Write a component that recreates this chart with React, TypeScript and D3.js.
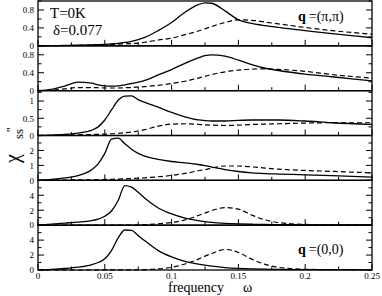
import React, { useEffect, useRef } from "react";
import * as d3 from "d3";

// frequency grid shared by all panels
const omega = [
  0, 0.01, 0.02, 0.03, 0.04, 0.045, 0.05, 0.055, 0.06, 0.065, 0.07, 0.075,
  0.08, 0.09, 0.1, 0.11, 0.12, 0.125, 0.13, 0.14, 0.15, 0.16, 0.17, 0.18, 0.2,
  0.22, 0.25,
];

// panel 1, q=(pi,pi)
const p1Solid = [0, 0.003, 0.008, 0.015, 0.022, 0.027, 0.033, 0.042, 0.055, 0.075, 0.1, 0.14, 0.19, 0.34, 0.52, 0.75, 0.92, 0.96, 0.95, 0.78, 0.58, 0.5, 0.45, 0.41, 0.34, 0.27, 0.18];
const p1Dashed = [0, 0.003, 0.007, 0.012, 0.018, 0.022, 0.026, 0.031, 0.038, 0.045, 0.052, 0.062, 0.08, 0.13, 0.17, 0.25, 0.33, 0.38, 0.43, 0.52, 0.58, 0.57, 0.53, 0.49, 0.41, 0.34, 0.26];
// panel 2
const p2Solid = [0, 0.03, 0.1, 0.19, 0.17, 0.13, 0.105, 0.1, 0.105, 0.13, 0.16, 0.19, 0.23, 0.35, 0.47, 0.61, 0.73, 0.78, 0.8, 0.77, 0.68, 0.58, 0.5, 0.45, 0.37, 0.31, 0.22];
const p2Dashed = [0, 0.01, 0.04, 0.07, 0.07, 0.065, 0.06, 0.06, 0.06, 0.065, 0.07, 0.08, 0.09, 0.12, 0.16, 0.21, 0.28, 0.32, 0.36, 0.42, 0.46, 0.48, 0.485, 0.475, 0.43, 0.36, 0.28];
// panel 3
const p3Solid = [0, 0.01, 0.03, 0.07, 0.15, 0.25, 0.45, 0.74, 1.02, 1.14, 1.15, 1.04, 0.96, 0.82, 0.67, 0.54, 0.45, 0.43, 0.42, 0.42, 0.44, 0.45, 0.45, 0.45, 0.42, 0.37, 0.32];
const p3Dashed = [0, 0.005, 0.01, 0.02, 0.03, 0.035, 0.04, 0.05, 0.065, 0.08, 0.1, 0.13, 0.17, 0.27, 0.33, 0.34, 0.32, 0.31, 0.3, 0.29, 0.3, 0.32, 0.33, 0.34, 0.36, 0.37, 0.37];
// panel 4
const p4Solid = [0, 0.06, 0.16, 0.32, 0.7, 1.1, 1.8, 2.75, 2.82, 2.45, 2.08, 1.8, 1.62, 1.4, 1.26, 1.17, 1.06, 0.98, 0.89, 0.72, 0.59, 0.5, 0.45, 0.42, 0.37, 0.31, 0.22];
const p4Dashed = [0, 0.01, 0.02, 0.03, 0.04, 0.05, 0.06, 0.07, 0.08, 0.1, 0.12, 0.14, 0.17, 0.24, 0.33, 0.46, 0.64, 0.72, 0.82, 0.96, 0.96, 0.9, 0.82, 0.75, 0.66, 0.6, 0.5];
// panel 5
const p5Solid = [0, 0.15, 0.28, 0.4, 0.6, 0.8, 1.2, 1.9, 3.3, 5.3, 5.1, 4.4, 3.6, 2.3, 1.5, 0.95, 0.6, 0.48, 0.38, 0.25, 0.17, 0.12, 0.09, 0.07, 0.05, 0.04, 0.03];
const p5Dashed = [0, 0, 0, 0, 0, 0.005, 0.005, 0.01, 0.01, 0.015, 0.02, 0.03, 0.06, 0.18, 0.35, 0.7, 1.3, 1.62, 1.95, 2.35, 2.15, 1.35, 0.7, 0.35, 0.1, 0.05, 0.03];
// panel 6, q=(0,0)
const p6Solid = [0, 0.08, 0.2, 0.38, 0.7, 1.0, 1.5, 2.6, 4.3, 5.35, 5.3, 4.6, 3.9, 2.6, 1.75, 1.15, 0.78, 0.64, 0.52, 0.33, 0.22, 0.15, 0.11, 0.08, 0.05, 0.04, 0.03];
const p6Dashed = [0, 0, 0, 0, 0, 0.005, 0.005, 0.01, 0.01, 0.015, 0.02, 0.03, 0.05, 0.15, 0.35, 0.8, 1.45, 1.85, 2.2, 2.75, 2.35, 1.45, 0.75, 0.35, 0.1, 0.05, 0.03];

const solids = [p1Solid, p2Solid, p3Solid, p4Solid, p5Solid, p6Solid];
const dashes = [p1Dashed, p2Dashed, p3Dashed, p4Dashed, p5Dashed, p6Dashed];
const yMax = [1, 1, 1.3, 3, 6, 6];
const yStep = [0.4, 0.4, 0.5, 1, 2, 2];
const xTicks = [0, 0.05, 0.1, 0.15, 0.2, 0.25];

const FONT = "Liberation Serif, DejaVu Serif, serif";

export default function App() {
  const ref = useRef<SVGSVGElement>(null);

  useEffect(() => {
    const width = 382;
    const height = 296;
    const svg = d3.select(ref.current).attr("width", width).attr("height", height);
    svg.selectAll("*").remove();

    const left = 38, right = 372, top = 1, bottom = 270;
    const ph = (bottom - top) / 6;

    const x = d3.scaleLinear().domain([0, 0.25]).range([left, right]);
    const xMinor = d3.range(0, 0.2501, 0.025);

    solids.forEach((solid, i) => {
      const y0 = top + i * ph;
      const y1 = y0 + ph;
      const y = d3.scaleLinear().domain([0, yMax[i]]).range([y1, y0]);
      const g = svg.append("g");

      const major = d3.range(0, yMax[i] + 1e-6, yStep[i]);
      const minor = d3.range(0, yMax[i] + 1e-6, yStep[i] / 2);

      // y ticks, pointing inward on both sides
      [left, right].forEach((x0) => {
        const dir = x0 === left ? 1 : -1;
        g.selectAll(null)
          .data(minor)
          .join("line")
          .attr("x1", x0)
          .attr("x2", (d) => x0 + dir * (major.some((m) => Math.abs(m - d) < 1e-6) ? 6 : 3.5))
          .attr("y1", (d) => y(d))
          .attr("y2", (d) => y(d))
          .attr("stroke", "#000")
          .attr("stroke-width", 1);
      });

      // x ticks at bottom of each panel
      g.selectAll(null)
        .data(xMinor)
        .join("line")
        .attr("x1", (d) => x(d))
        .attr("x2", (d) => x(d))
        .attr("y1", y1)
        .attr("y2", (_, k) => y1 - (k % 2 === 0 ? 6 : 3.5))
        .attr("stroke", "#000")
        .attr("stroke-width", 1);

      // y labels
      g.selectAll(null)
        .data(major.filter((v) => v < yMax[i] - 1e-6))
        .join("text")
        .attr("x", 34)
        .attr("y", (d) => y(d) + 3.3)
        .attr("text-anchor", "end")
        .attr("font-family", FONT)
        .attr("font-size", 9)
        .text((d) => d3.format("~g")(d));

      const line = d3
        .line<number>()
        .x((_, k) => x(omega[k]))
        .y((d) => y(d))
        .curve(d3.curveMonotoneX);

      g.append("path")
        .attr("d", line(dashes[i]))
        .attr("fill", "none")
        .attr("stroke", "#000")
        .attr("stroke-width", 1.2)
        .attr("stroke-dasharray", "5,3");

      g.append("path")
        .attr("d", line(solid))
        .attr("fill", "none")
        .attr("stroke", "#000")
        .attr("stroke-width", 1.3);

      // frame
      g.append("rect")
        .attr("x", left)
        .attr("y", y0)
        .attr("width", right - left)
        .attr("height", ph)
        .attr("fill", "none")
        .attr("stroke", "#000")
        .attr("stroke-width", 1.3);
    });

    // x tick labels
    svg
      .selectAll(null)
      .data(xTicks)
      .join("text")
      .attr("x", (d) => x(d))
      .attr("y", 279)
      .attr("text-anchor", "middle")
      .attr("font-family", FONT)
      .attr("font-size", 9)
      .text((d) => d3.format("~g")(d));

    // x label
    svg.append("text")
      .attr("x", 168)
      .attr("y", 292)
      .attr("font-family", FONT)
      .attr("font-size", 14)
      .text("frequency");
    svg.append("text")
      .attr("x", 243)
      .attr("y", 292)
      .attr("font-family", FONT)
      .attr("font-size", 14)
      .text("ω");

    // y label
    svg.append("text")
      .attr("transform", "translate(19,163) rotate(-90)")
      .attr("font-family", FONT)
      .attr("font-size", 20)
      .text("χ");
    svg.append("text")
      .attr("transform", "translate(15,132) rotate(-90)")
      .attr("font-family", FONT)
      .attr("font-size", 12)
      .text("''");
    svg.append("text")
      .attr("transform", "translate(23,139) rotate(-90)")
      .attr("font-family", FONT)
      .attr("font-size", 13)
      .text("ss");

    // annotations
    svg.append("text")
      .attr("x", 50).attr("y", 18)
      .attr("font-family", FONT).attr("font-size", 15)
      .text("T=0K");
    svg.append("text")
      .attr("x", 53).attr("y", 35)
      .attr("font-family", FONT).attr("font-size", 15)
      .text("δ=0.077");

    const qLabel = (yb: number, rest: string) => {
      const t = svg.append("text")
        .attr("x", 298).attr("y", yb)
        .attr("font-family", FONT).attr("font-size", 14);
      t.append("tspan").attr("font-weight", "bold").text("q");
      t.append("tspan").attr("dx", 3).text(rest);
    };
    qLabel(21, "=(π,π)");
    qLabel(254, "=(0,0)");
  }, []);

  return <svg ref={ref} style={{ position: "absolute", left: 0, top: 0 }} />;
}
